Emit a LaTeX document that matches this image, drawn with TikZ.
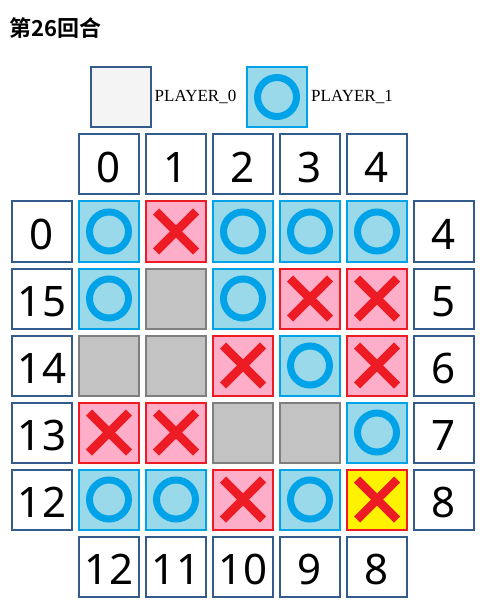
\documentclass[tikz,border=0pt]{standalone}
\usepackage{fontspec}
\setmainfont{Liberation Serif}
\newfontfamily\cjkbold[BoldFont=* Bold]{Noto Sans CJK SC}
\newfontfamily\numfont{Noto Sans}
\usepackage{tikz}

\definecolor{oblue}{RGB}{0,162,232}
\definecolor{ofill}{RGB}{153,217,234}
\definecolor{xred}{RGB}{237,28,36}
\definecolor{xfill}{RGB}{255,174,201}
\definecolor{gfill}{RGB}{195,195,195}
\definecolor{gline}{RGB}{127,127,127}
\definecolor{nline}{RGB}{51,92,140}
\definecolor{lastfill}{RGB}{255,242,0}
\definecolor{pfill}{RGB}{244,244,244}

\tikzset{
  cell/.style={rectangle,minimum size=60pt,inner sep=0pt,line width=2pt},
  numbox/.style={cell,draw=nline,fill=white,text height=36pt,text depth=0pt,font=\numfont\fontsize{42}{42}\selectfont},
  ocell/.style={cell,draw=oblue,fill=ofill,path picture={
    \draw[line width=7pt,oblue] (path picture bounding box.center) circle (19.5pt);}},
  xcell/.style={cell,draw=xred,fill=xfill,path picture={
    \draw[line width=8.5pt,xred] ([shift={(-20pt,-20pt)}]path picture bounding box.center) -- ([shift={(20pt,20pt)}]path picture bounding box.center);
    \draw[line width=8.5pt,xred] ([shift={(-20pt,20pt)}]path picture bounding box.center) -- ([shift={(20pt,-20pt)}]path picture bounding box.center);}},
  gcell/.style={cell,draw=gline,fill=gfill},
  lastx/.style={xcell,fill=lastfill},
  ptxt/.style={anchor=west,font=\fontsize{17}{17}\selectfont,inner sep=3pt}
}

\begin{document}
\begin{tikzpicture}[x=1pt,y=-1pt]
\useasboundingbox (0,0) rectangle (486,609);
\node at (9,28)[anchor=west,inner sep=0pt,font=\cjkbold\bfseries\fontsize{22}{22}\selectfont] (title) {第26回合};
% legend
\node at (120.5,97)[cell,draw=nline,fill=pfill] (p0) {};
\node[ptxt] at (p0.east) (p0txt) {PLAYER\_0};
\node at (277,97)[ocell] (p1) {};
\node[ptxt] at (p1.east) (p1txt) {PLAYER\_1};
% top numbers
\node at (109,164.5)[numbox] (t0) {0};
\node at (176,164.5)[numbox] (t1) {1};
\node at (243,164.5)[numbox] (t2) {2};
\node at (310,164.5)[numbox] (t3) {3};
\node at (377,164.5)[numbox] (t4) {4};
% left numbers
\node at (42,231.5)[numbox] (l0) {0};
\node at (42,298.5)[numbox] (l1) {15};
\node at (42,365.5)[numbox] (l2) {14};
\node at (42,432.5)[numbox] (l3) {13};
\node at (42,499.5)[numbox] (l4) {12};
% right numbers
\node at (444,231.5)[numbox] (r0) {4};
\node at (444,298.5)[numbox] (r1) {5};
\node at (444,365.5)[numbox] (r2) {6};
\node at (444,432.5)[numbox] (r3) {7};
\node at (444,499.5)[numbox] (r4) {8};
% bottom numbers
\node at (109,566.5)[numbox] (b0) {12};
\node at (176,566.5)[numbox] (b1) {11};
\node at (243,566.5)[numbox] (b2) {10};
\node at (310,566.5)[numbox] (b3) {9};
\node at (377,566.5)[numbox] (b4) {8};
% board
\node at (109,231.5)[ocell] (c00) {};
\node at (176,231.5)[xcell] (c01) {};
\node at (243,231.5)[ocell] (c02) {};
\node at (310,231.5)[ocell] (c03) {};
\node at (377,231.5)[ocell] (c04) {};
\node at (109,298.5)[ocell] (c10) {};
\node at (176,298.5)[gcell] (c11) {};
\node at (243,298.5)[ocell] (c12) {};
\node at (310,298.5)[xcell] (c13) {};
\node at (377,298.5)[xcell] (c14) {};
\node at (109,365.5)[gcell] (c20) {};
\node at (176,365.5)[gcell] (c21) {};
\node at (243,365.5)[xcell] (c22) {};
\node at (310,365.5)[ocell] (c23) {};
\node at (377,365.5)[xcell] (c24) {};
\node at (109,432.5)[xcell] (c30) {};
\node at (176,432.5)[xcell] (c31) {};
\node at (243,432.5)[gcell] (c32) {};
\node at (310,432.5)[gcell] (c33) {};
\node at (377,432.5)[ocell] (c34) {};
\node at (109,499.5)[ocell] (c40) {};
\node at (176,499.5)[ocell] (c41) {};
\node at (243,499.5)[xcell] (c42) {};
\node at (310,499.5)[ocell] (c43) {};
\node at (377,499.5)[lastx] (c44) {};
\end{tikzpicture}
\end{document}
